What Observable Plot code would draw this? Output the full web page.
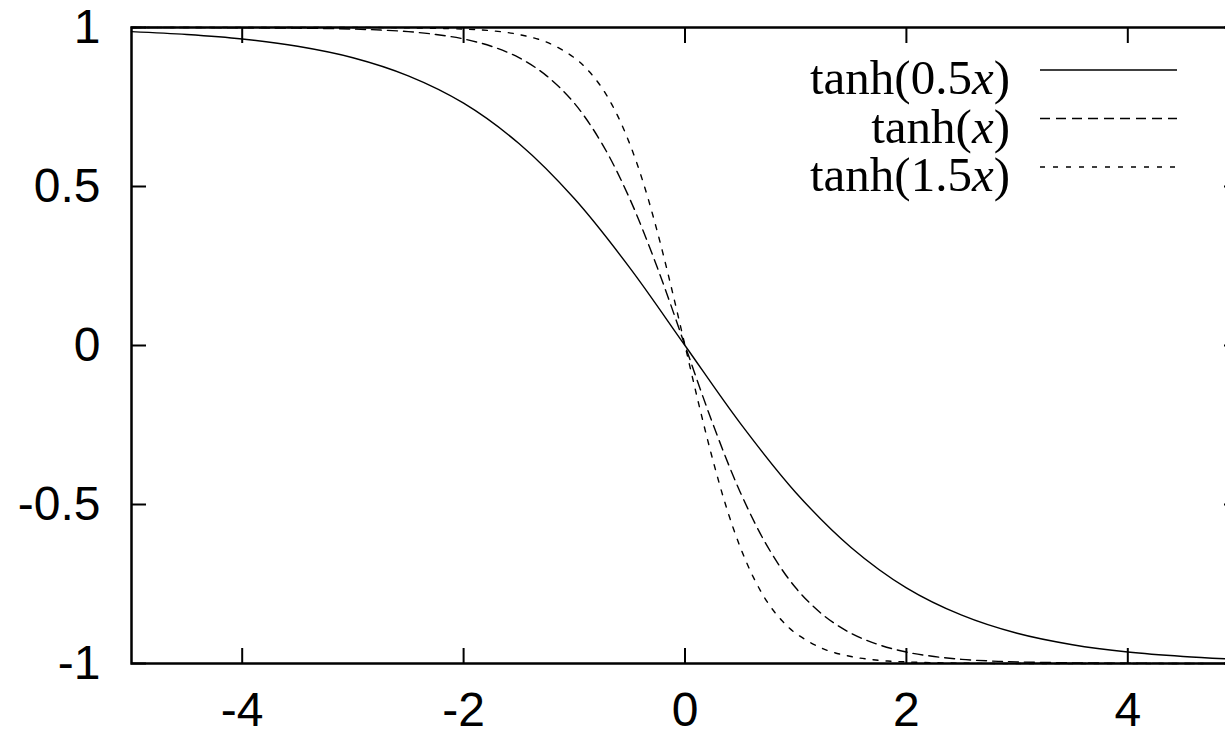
<!DOCTYPE html>
<html>
<head>
<meta charset="utf-8">
<script src="https://cdn.jsdelivr.net/npm/d3@7"></script>
<script src="https://cdn.jsdelivr.net/npm/@observablehq/plot@0.6"></script>
<style>
html, body { margin: 0; padding: 0; background: white; overflow: hidden; }
#chart { position: relative; width: 1240px; height: 734px; }
</style>
</head>
<body>
<div id="chart"></div>
<script>
// Series
const seriesNames = ["tanh(0.5x)", "tanh(x)", "tanh(1.5x)"];

const x05 = [-5, -4.5, -4, -3.5, -3, -2.5, -2, -1.5, -1, -0.5, 0, 0.5, 1, 1.5, 2, 2.5, 3, 3.5, 4, 4.5, 5];
const y05 = [0.987, 0.978, 0.964, 0.941, 0.905, 0.848, 0.762, 0.635, 0.462, 0.245, 0, -0.245, -0.462, -0.635, -0.762, -0.848, -0.905, -0.941, -0.964, -0.978, -0.987];

const x10 = [-5, -4.5, -4, -3.5, -3, -2.75, -2.5, -2.25, -2, -1.75, -1.5, -1.25, -1, -0.75, -0.5, -0.25, 0, 0.25, 0.5, 0.75, 1, 1.25, 1.5, 1.75, 2, 2.25, 2.5, 2.75, 3, 3.5, 4, 4.5, 5];
const y10 = [1.0, 1.0, 0.999, 0.998, 0.995, 0.992, 0.987, 0.978, 0.964, 0.941, 0.905, 0.848, 0.762, 0.635, 0.462, 0.245, 0, -0.245, -0.462, -0.635, -0.762, -0.848, -0.905, -0.941, -0.964, -0.978, -0.987, -0.992, -0.995, -0.998, -0.999, -1.0, -1.0];

const x15 = [-5, -4, -3, -2.5, -2, -1.75, -1.5, -1.25, -1, -0.875, -0.75, -0.625, -0.5, -0.375, -0.25, -0.125, 0, 0.125, 0.25, 0.375, 0.5, 0.625, 0.75, 0.875, 1, 1.25, 1.5, 1.75, 2, 2.5, 3, 4, 5];
const y15 = [1.0, 1.0, 1.0, 0.999, 0.995, 0.990, 0.978, 0.954, 0.905, 0.865, 0.810, 0.734, 0.635, 0.510, 0.358, 0.185, 0, -0.185, -0.358, -0.510, -0.635, -0.734, -0.810, -0.865, -0.905, -0.954, -0.978, -0.990, -0.995, -0.999, -1.0, -1.0, -1.0];

const xTicks = [-4, -2, 0, 2, 4];
const yTicks = [-1, -0.5, 0, 0.5, 1];
const dashes = [null, "10,6", "5,8"];

const toRows = (xs, ys) => xs.map((x, i) => ({x, y: ys[i]}));
const sets = [toRows(x05, y05), toRows(x10, y10), toRows(x15, y15)];

const blank = () => "";
const fmt = d => String(d);

const plot = Plot.plot({
  width: 1240,
  height: 734,
  marginLeft: 131,
  marginRight: 2,
  marginTop: 27,
  marginBottom: 71,
  style: "max-width:none; overflow:visible; background:white; font-family:'Liberation Sans', Arial, sans-serif;",
  x: {domain: [-5, 5], label: null},
  y: {domain: [-1, 1], label: null},
  marks: [
    ...sets.map((d, i) => Plot.line(d, {
      x: "x", y: "y", curve: "catmull-rom",
      stroke: "black", strokeWidth: 1.4,
      strokeDasharray: dashes[i]
    })),
    Plot.frame({stroke: "black", strokeWidth: 2.5}),
    // inward ticks on all four sides
    Plot.axisX({anchor: "bottom", ticks: xTicks, tickSize: 15, dy: -15, tickFormat: blank, label: null, strokeWidth: 2}),
    Plot.axisX({anchor: "top", ticks: xTicks, tickSize: 15, dy: 15, tickFormat: blank, label: null, strokeWidth: 2}),
    Plot.axisY({anchor: "left", ticks: yTicks, tickSize: 15, dx: 15, tickFormat: blank, label: null, strokeWidth: 2}),
    Plot.axisY({anchor: "right", ticks: yTicks, tickSize: 15, dx: -15, tickFormat: blank, label: null, strokeWidth: 2}),
    // tick labels
    Plot.axisX({anchor: "bottom", ticks: xTicks, tickSize: 0, tickPadding: 28, tickFormat: fmt, label: null, fontSize: 48, fill: "black"}),
    Plot.axisY({anchor: "left", ticks: yTicks, tickSize: 0, tickPadding: 31, tickFormat: fmt, label: null, fontSize: 48, fill: "black"})
  ]
});

document.getElementById("chart").appendChild(plot);

// Legend (gnuplot-style, inside the plot area, top right)
const svg = d3.select(plot);
const legend = svg.append("g")
  .attr("font-family", "'Liberation Serif', 'Times New Roman', serif")
  .attr("font-size", 49)
  .attr("fill", "black");
const legendParts = [["tanh(0.5", ")"], ["tanh(", ")"], ["tanh(1.5", ")"]];
legendParts.forEach((p, i) => {
  const base = 94 + i * 48.5;
  const t = legend.append("text")
    .attr("x", 1010).attr("y", base)
    .attr("text-anchor", "end");
  t.append("tspan").text(p[0]);
  t.append("tspan").attr("font-style", "italic").text("x");
  t.append("tspan").text(p[1]);
  legend.append("line")
    .attr("x1", 1040).attr("x2", 1177)
    .attr("y1", base - 24).attr("y2", base - 24)
    .attr("stroke", "black").attr("stroke-width", 1.4)
    .attr("stroke-dasharray", dashes[i]);
});
</script>
</body>
</html>
